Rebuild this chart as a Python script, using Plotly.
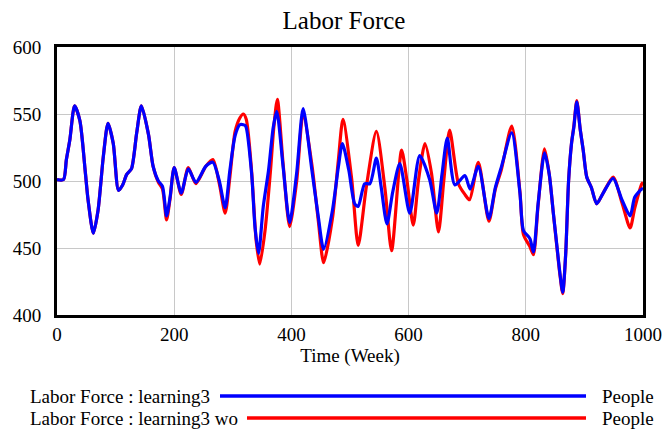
import plotly.graph_objects as go

# ---- data ----
weeks_learning3 = [0, 11, 16, 22, 30, 39, 48, 53, 62, 70, 79, 87, 96, 105, 112, 119, 127, 136, 144,
                   156, 164, 173, 180, 187, 193, 200, 212, 224, 237, 254, 266, 277, 287, 295, 304,
                   312, 318, 322, 332, 338, 344, 352, 361, 369, 375, 386, 397, 409, 420, 435, 446,
                   455, 470, 480, 487, 498, 508, 514, 525, 534, 545, 553, 563, 573, 585, 602, 619,
                   636, 648, 657, 666, 679, 696, 705, 719, 737, 748, 758, 776, 790, 796, 807, 813,
                   821, 832, 840, 847, 853, 858, 863, 868, 873, 878, 882, 887, 893, 898, 904, 912,
                   921, 932, 949, 964, 978, 986, 998, 1000]
labor_learning3 = [501, 501, 516, 531, 556, 545, 508, 486, 461, 478, 518, 543, 528, 493, 497, 505, 509, 536, 556,
                   535, 511, 500, 496, 474, 488, 510, 491, 509, 499, 511, 514, 500, 480, 508, 534,
                   542, 542, 541, 506, 465, 446, 481, 508, 540, 552, 510, 469, 506, 554, 508, 473,
                   449, 478, 510, 528, 508, 483, 481, 498, 498, 517, 496, 468, 492, 513, 476, 519,
                   501, 476, 505, 532, 497, 504, 494, 511, 472, 495, 510, 536, 491, 463, 457, 447,
                   483, 521, 505, 476, 452, 432, 417, 445, 500, 528, 540, 559, 538, 523, 503, 495,
                   483, 491, 502, 486, 474, 488, 494, 494]

weeks_learning3_wo = [0, 11, 16, 22, 30, 39, 48, 53, 62, 70, 79, 87, 96, 105, 112, 119, 127, 136, 144,
                      156, 164, 173, 180, 187, 193, 200, 212, 224, 237, 254, 266, 277, 287, 295, 304,
                      312, 318, 323, 332, 340, 346, 355, 364, 370, 376, 386, 397, 409, 420, 435, 446,
                      455, 470, 480, 488, 503, 514, 528, 545, 560, 571, 588, 597, 608, 617, 628, 639,
                      651, 660, 670, 685, 696, 704, 719, 737, 748, 758, 776, 790, 796, 807, 813, 821,
                      832, 840, 847, 853, 858, 863, 868, 873, 878, 882, 887, 893, 898, 904, 912, 921,
                      932, 949, 964, 978, 986, 998, 1000]
labor_learning3_wo = [501, 501, 516, 531, 556, 545, 508, 486, 461, 478, 518, 543, 528, 493, 497, 505, 509, 536, 556,
                      535, 511, 499, 494, 471, 487, 510, 490, 510, 498, 511, 516, 498, 476, 503, 537,
                      547, 550, 546, 508, 455, 438, 463, 506, 540, 561, 512, 466, 500, 550, 512, 470,
                      439, 472, 515, 546, 501, 452, 496, 537, 493, 448, 523, 501, 467, 501, 528, 506,
                      462, 500, 538, 498, 490, 486, 514, 470, 494, 508, 541, 492, 460, 451, 445, 482,
                      524, 505, 476, 451, 431, 416, 445, 500, 528, 541, 560, 538, 523, 503, 495, 483,
                      491, 503, 484, 465, 480, 498, 499]

x_ticks = [0, 200, 400, 600, 800, 1000]
y_ticks = [400, 450, 500, 550, 600]
title_text = "Labor Force"
x_title = "Time (Week)"
legend_names = ["Labor Force : learning3", "Labor Force : learning3 wo"]
legend_units = ["People", "People"]

# ---- geometry (page pixels) ----
W, H = 665, 429
L, R, T, B = 57, 643, 47, 315          # plot frame
FONT = "Liberation Serif, Times New Roman, serif"


def px(x):
    return (x - L) / (R - L)


def py(y):
    return (B - y) / (B - T)


fig = go.Figure()
fig.add_trace(go.Scatter(x=weeks_learning3_wo, y=labor_learning3_wo, mode="lines",
                         line=dict(color="#ff0000", width=3.2, shape="spline", smoothing=0.7),
                         name=legend_names[1], showlegend=False))
fig.add_trace(go.Scatter(x=weeks_learning3, y=labor_learning3, mode="lines",
                         line=dict(color="#0000ff", width=3.2, shape="spline", smoothing=0.7),
                         name=legend_names[0], showlegend=False))

fig.update_layout(
    width=W, height=H, autosize=False,
    margin=dict(l=L, r=W - R, t=T, b=H - B, pad=0, autoexpand=False),
    paper_bgcolor="white", plot_bgcolor="white",
    font=dict(family=FONT, size=19, color="black"),
    title=dict(text=title_text, x=344 / W, xanchor="center",
               y=1 - 20 / H, yanchor="middle", font=dict(size=25, family=FONT),
               automargin=False),
    xaxis=dict(range=[0, 1000], tickvals=x_ticks, ticktext=[str(v) for v in x_ticks],
               automargin=False,
               showgrid=True, gridcolor="#c8c8c8", gridwidth=1.3, zeroline=False,
               showline=True, mirror=True, linecolor="black", linewidth=3,
               ticks="",
               tickfont=dict(size=19, family=FONT),
               title=dict(text=x_title, font=dict(size=19, family=FONT), standoff=2)),
    yaxis=dict(range=[400, 600], tickvals=y_ticks, ticktext=[str(v) for v in y_ticks],
               automargin=False,
               showgrid=True, gridcolor="#c8c8c8", gridwidth=1.3, zeroline=False,
               showline=True, mirror=True, linecolor="black", linewidth=3,
               ticks="outside", ticklen=9, tickcolor="rgba(0,0,0,0)",
               tickfont=dict(size=19, family=FONT)),
)

# ---- custom legend below the plot ----
rows = [396, 418]
line_starts = [220, 247]
colors = ["#0000ff", "#ff0000"]
for name, unit, yrow, xs, col in zip(legend_names, legend_units, rows, line_starts, colors):
    fig.add_annotation(text=name, xref="paper", yref="paper", x=px(28), y=py(yrow),
                       xanchor="left", yanchor="middle", showarrow=False,
                       font=dict(size=19, family=FONT))
    fig.add_shape(type="line", xref="paper", yref="paper", x0=px(xs), x1=px(586),
                  y0=py(yrow), y1=py(yrow), line=dict(color=col, width=3.5))
    fig.add_annotation(text=unit, xref="paper", yref="paper", x=px(600), y=py(yrow),
                       xanchor="left", yanchor="middle", showarrow=False,
                       font=dict(size=19, family=FONT))

# remove the default page margin so the 665x429 figure fills the window exactly
fig.write_html("out.html",
               config={"displayModeBar": False},
               post_script="document.body.style.margin='0';document.body.style.overflow='hidden';")
